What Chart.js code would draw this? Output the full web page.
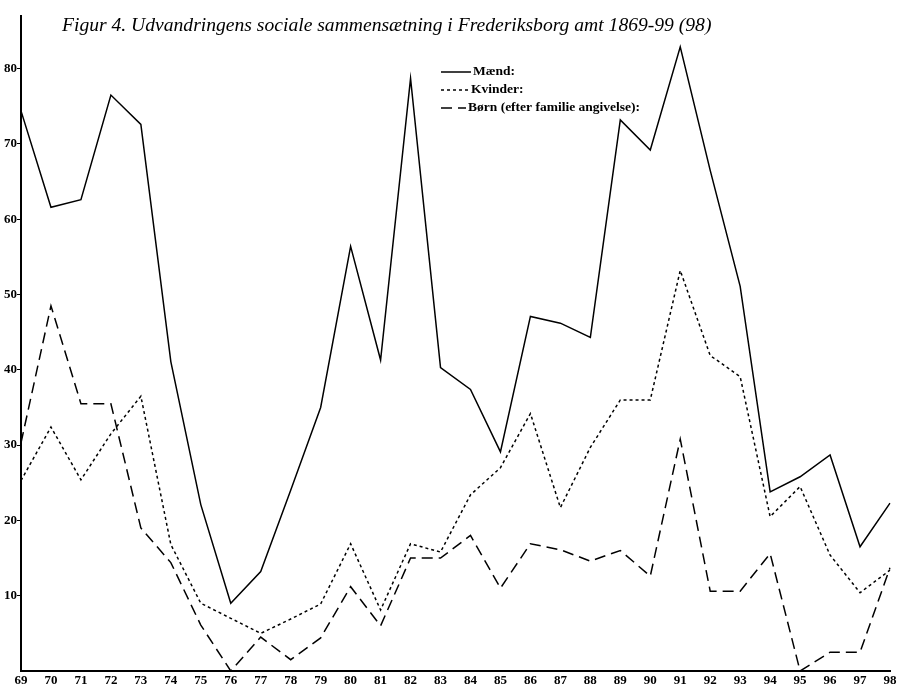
<!DOCTYPE html>
<html>
<head>
<meta charset="utf-8">
<script src="https://cdn.jsdelivr.net/npm/chart.js@4.4.1/dist/chart.umd.min.js"></script>
<style>
    body { margin: 0; background: #fff; }
    #wrap { width: 900px; height: 687px; position: relative; }
</style>
</head>
<body>
<div id="wrap"><canvas id="chart"></canvas></div>
<script>
// Årstal 1869-98
const years = ['69','70','71','72','73','74','75','76','77','78','79','80','81','82','83',
               '84','85','86','87','88','89','90','91','92','93','94','95','96','97','98'];

// Mænd
const maend = [74.4, 61.6, 62.6, 76.5, 72.6, 41.1, 22.1, 9.0, 13.2, 24.0, 35.0, 56.4, 41.3, 78.7, 40.3,
               37.4, 29.1, 47.1, 46.2, 44.3, 73.2, 69.2, 82.9, 66.5, 51.1, 23.8, 25.8, 28.7, 16.5, 22.3];

// Kvinder
const kvinder = [25.3, 32.4, 25.4, 31.5, 36.5, 16.8, 9.0, 7.0, 5.0, 6.9, 8.9, 16.9, 8.1, 16.9, 15.8,
                 23.4, 27.0, 34.2, 21.7, 29.7, 36.0, 36.0, 53.2, 41.9, 39.1, 20.5, 24.5, 15.4, 10.4, 13.4];

// Børn
const boern = [30.3, 48.5, 35.5, 35.5, 19.0, 14.4, 6.1, 0, 4.5, 1.5, 4.4, 11.2, 6.0, 15.0, 15.0,
               18.0, 11.0, 16.9, 16.1, 14.6, 16.0, 12.6, 30.8, 10.6, 10.6, 15.6, 0, 2.5, 2.5, 13.7];

const yTicks = [10, 20, 30, 40, 50, 60, 70, 80];

const titleText = 'Figur 4. Udvandringens sociale sammensætning i Frederiksborg amt 1869-99 (98)';

// Titel og legende tegnes oven i diagramfeltet
const overlay = {
    id: 'overlay',
    afterDraw(chart) {
        const ctx = chart.ctx;
        ctx.save();
        ctx.fillStyle = '#000';
        ctx.textBaseline = 'middle';
        ctx.font = 'italic 19.6px "Liberation Serif"';
        ctx.fillText(titleText, 62, 26);

        ctx.font = 'bold 13.5px "Liberation Serif"';
        const textX = [473, 471, 468];
        chart.data.datasets.forEach(function(ds, i) {
            const y = 72 + i * 18;
            ctx.beginPath();
            ctx.setLineDash(ds.borderDash || []);
            ctx.lineWidth = 1.5;
            ctx.strokeStyle = '#000';
            ctx.moveTo(441, y);
            ctx.lineTo(textX[i] - 2, y);
            ctx.stroke();
            ctx.setLineDash([]);
            ctx.fillText(ds.label, textX[i], y);
        });
        ctx.restore();
    }
};

new Chart(document.getElementById('chart'), {
    type: 'line',
    data: {
        labels: years,
        datasets: [
            { label: 'Mænd:', data: maend, borderColor: '#000', borderWidth: 1.5, pointRadius: 0, tension: 0 },
            { label: 'Kvinder:', data: kvinder, borderColor: '#000', borderWidth: 1.5, borderDash: [3, 3], pointRadius: 0, tension: 0 },
            { label: 'Børn (efter familie angivelse):', data: boern, borderColor: '#000', borderWidth: 1.5, borderDash: [11, 6], pointRadius: 0, tension: 0 }
        ]
    },
    options: {
        responsive: true,
        maintainAspectRatio: false,
        animation: false,
        layout: { padding: { top: 16, right: 10, left: 0, bottom: 0 } },
        plugins: {
            legend: { display: false },
            title: { display: false },
            tooltip: { enabled: false }
        },
        scales: {
            x: {
                offset: false,
                grid: { drawOnChartArea: false, drawTicks: false },
                border: { color: '#000', width: 2 },
                ticks: {
                    color: '#000',
                    padding: 2,
                    maxRotation: 0,
                    autoSkip: false,
                    font: { family: '"Liberation Serif"', weight: 'bold', size: 13 }
                },
                afterFit(scale) { scale.height = 16; }
            },
            y: {
                min: 0,
                max: 87,
                grid: { drawOnChartArea: false, tickLength: 4, color: '#000' },
                border: { color: '#000', width: 2 },
                ticks: {
                    color: '#000',
                    padding: 0,
                    font: { family: '"Liberation Serif"', weight: 'bold', size: 13 }
                },
                afterBuildTicks(scale) {
                    scale.ticks = yTicks.map(v => ({ value: v }));
                },
                afterFit(scale) { scale.width = 21; }
            }
        }
    },
    plugins: [overlay]
});
</script>
</body>
</html>
